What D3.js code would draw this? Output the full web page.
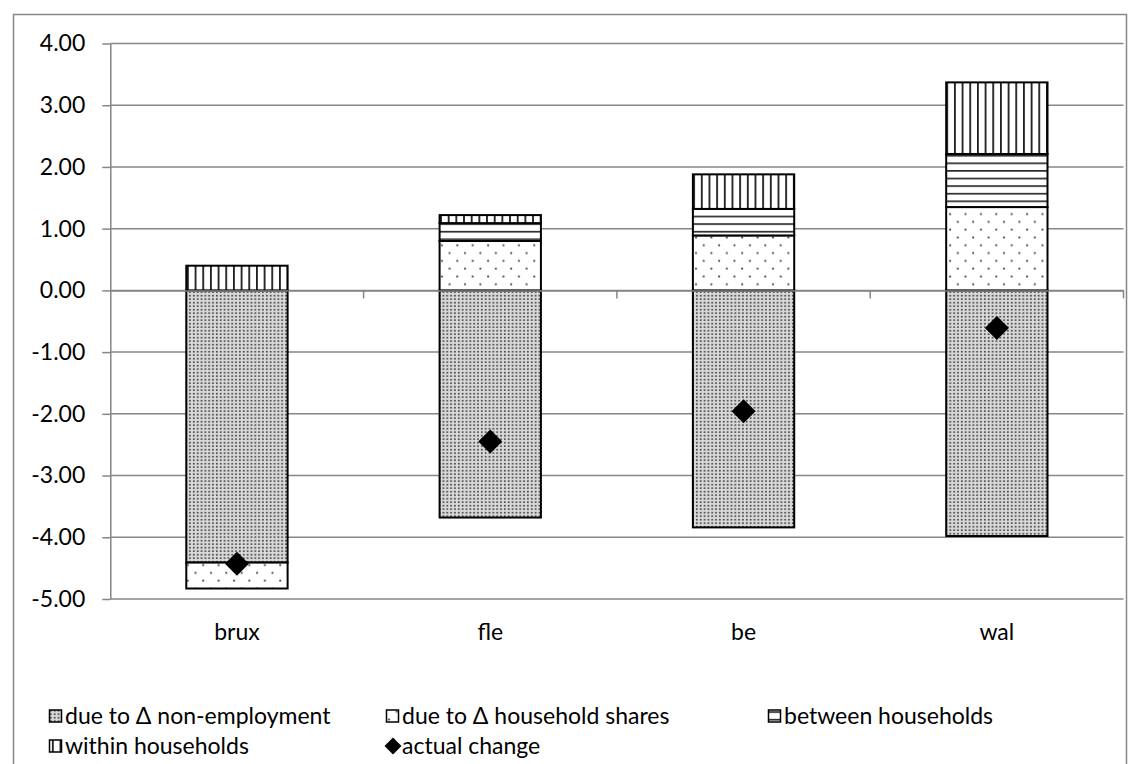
<!DOCTYPE html>
<html>
<head>
<meta charset="utf-8">
<script src="https://cdn.jsdelivr.net/npm/d3@7"></script>
<style>
  html, body { margin: 0; padding: 0; background: #fff; }
  svg { display: block; font-family: Lato, "Noto Sans", sans-serif; }
</style>
</head>
<body>
<svg id="chart" width="1140" height="764"></svg>
<script>
// Regions on the category axis
const categories = ["brux", "fle", "be", "wal"];

// Decomposition components (stacked)
const nonEmployment     = [-4.41, -3.68, -3.84, -3.98];
const householdShares   = [-0.42,  0.80,  0.89,  1.35];
const betweenHouseholds = [ 0.00,  0.29,  0.43,  0.86];
const withinHouseholds  = [ 0.40,  0.13,  0.56,  1.16];

// Overall change (diamond markers)
const actualChange = [-4.43, -2.45, -1.96, -0.61];

// Value axis ticks and their labels
const yTickValues = [4, 3, 2, 1, 0, -1, -2, -3, -4, -5];
const yTickLabels = ["4.00", "3.00", "2.00", "1.00", "0.00", "-1.00", "-2.00", "-3.00", "-4.00", "-5.00"];

const seriesKeys = ["nonEmployment", "householdShares", "betweenHouseholds", "withinHouseholds"];
const seriesNames = {
  nonEmployment: "due to \u0394 non-employment",
  householdShares: "due to \u0394 household shares",
  betweenHouseholds: "between households",
  withinHouseholds: "within households"
};
const seriesValues = { nonEmployment, householdShares, betweenHouseholds, withinHouseholds };

const rows = categories.map((c, i) => {
  const r = { category: c };
  seriesKeys.forEach(k => { r[k] = seriesValues[k][i]; });
  return r;
});

const svg = d3.select("#chart");
const gridColor = "#868686";
const fontSize = "23px";

// ---- fill patterns ----
const defs = svg.append("defs");

// fine dense dots on grey
const pNon = defs.append("pattern").attr("id", "pat-nonEmployment")
  .attr("patternUnits", "userSpaceOnUse").attr("width", 3.84).attr("height", 3.5);
pNon.append("rect").attr("width", 3.84).attr("height", 3.5).attr("fill", "#dadada");
pNon.append("rect").attr("x", 0.9).attr("y", 0.8).attr("width", 1.8).attr("height", 1.7).attr("fill", "#4a4a4a");

// sparse staggered dots on white
const pHh = defs.append("pattern").attr("id", "pat-householdShares")
  .attr("patternUnits", "userSpaceOnUse").attr("width", 15.4).attr("height", 15.6);
pHh.append("rect").attr("width", 15.4).attr("height", 15.6).attr("fill", "#fff");
pHh.append("circle").attr("cx", 3).attr("cy", 3.5).attr("r", 1.1).attr("fill", "#444");
pHh.append("circle").attr("cx", 10.7).attr("cy", 11.3).attr("r", 1.1).attr("fill", "#444");

// horizontal lines
const pBw = defs.append("pattern").attr("id", "pat-betweenHouseholds")
  .attr("patternUnits", "userSpaceOnUse").attr("width", 8).attr("height", 7.6);
pBw.append("rect").attr("width", 8).attr("height", 7.6).attr("fill", "#fff");
pBw.append("rect").attr("x", 0).attr("y", 3).attr("width", 8).attr("height", 1.4).attr("fill", "#000");

// vertical lines
const pWi = defs.append("pattern").attr("id", "pat-withinHouseholds")
  .attr("patternUnits", "userSpaceOnUse").attr("width", 7.67).attr("height", 8);
pWi.append("rect").attr("width", 7.67).attr("height", 8).attr("fill", "#fff");
pWi.append("rect").attr("x", 3).attr("y", 0).attr("width", 1.6).attr("height", 8).attr("fill", "#000");

// ---- outer frame ----
svg.append("rect")
  .attr("x", 13.5).attr("y", 14.5)
  .attr("width", 1113).attr("height", 800)
  .attr("fill", "none").attr("stroke", gridColor).attr("stroke-width", 1.5);

// ---- scales ----
const plot = { left: 110.3, right: 1123.5, top: 43.5, bottom: 599 };

const x = d3.scaleBand()
  .domain(categories)
  .range([plot.left, plot.right])
  .paddingInner(0.6)
  .paddingOuter(0.3);

const y = d3.scaleLinear()
  .domain([-5, 4])
  .range([plot.bottom, plot.top]);

// ---- gridlines ----
svg.append("g")
  .selectAll("line")
  .data(yTickValues)
  .join("line")
  .attr("x1", plot.left).attr("x2", plot.right)
  .attr("y1", d => y(d)).attr("y2", d => y(d))
  .attr("stroke", gridColor).attr("stroke-width", 1.5);

// ---- value axis ----
const yAxis = d3.axisLeft(y)
  .tickValues(yTickValues)
  .tickFormat((d, i) => yTickLabels[i])
  .tickSizeInner(8).tickSizeOuter(0).tickPadding(17);

const gy = svg.append("g")
  .attr("transform", `translate(${plot.left},0)`)
  .call(yAxis);
gy.select(".domain").attr("stroke", gridColor).attr("stroke-width", 1.5);
gy.selectAll(".tick line").attr("stroke", gridColor).attr("stroke-width", 1.5);
gy.selectAll(".tick text")
  .attr("fill", "#000")
  .style("font-size", fontSize)
  .style("font-family", "Lato, 'Noto Sans', sans-serif");

// ---- stacked bars ----
const stack = d3.stack()
  .keys(seriesKeys)
  .offset(d3.stackOffsetDiverging);
const stacked = stack(rows);

const barGroups = svg.append("g")
  .selectAll("g")
  .data(stacked)
  .join("g")
  .attr("fill", d => `url(#pat-${d.key})`);

barGroups.selectAll("rect")
  .data(d => d.filter(s => Math.abs(s[1] - s[0]) > 1e-9))
  .join("rect")
  .attr("x", s => x(s.data.category))
  .attr("width", x.bandwidth())
  .attr("y", s => y(Math.max(s[0], s[1])))
  .attr("height", s => Math.abs(y(s[0]) - y(s[1])))
  .attr("stroke", "#000")
  .attr("stroke-width", 2);

// ---- category axis at zero ----
const xAxis = d3.axisBottom(x).tickSize(0).tickPadding(0).tickFormat(() => "");
const gx = svg.append("g")
  .attr("transform", `translate(0,${y(0)})`)
  .call(xAxis);
gx.select(".domain").attr("stroke", gridColor).attr("stroke-width", 1.5);

// tick marks between categories
const boundaries = categories.map((c, i) => plot.left + (i + 1) * (plot.right - plot.left) / categories.length);
gx.selectAll(".boundary")
  .data(boundaries)
  .join("line")
  .attr("class", "boundary")
  .attr("x1", d => d).attr("x2", d => d)
  .attr("y1", 0).attr("y2", 8)
  .attr("stroke", gridColor).attr("stroke-width", 1.5);

// category labels below the plot area
svg.append("g")
  .selectAll("text")
  .data(categories)
  .join("text")
  .attr("x", d => x(d) + x.bandwidth() / 2)
  .attr("y", 640)
  .attr("text-anchor", "middle")
  .style("font-size", fontSize)
  .text(d => d);

// ---- actual change markers ----
const diamond = r => `M0,${-r}L${r},0L0,${r}L${-r},0Z`;
svg.append("g")
  .selectAll("path")
  .data(actualChange)
  .join("path")
  .attr("transform", (d, i) => `translate(${x(categories[i]) + x.bandwidth() / 2},${y(d)})`)
  .attr("d", diamond(12))
  .attr("fill", "#000");

// ---- legend ----
const legendItems = [
  { key: "nonEmployment", col: 0, row: 0 },
  { key: "householdShares", col: 1, row: 0 },
  { key: "betweenHouseholds", col: 2, row: 0 },
  { key: "withinHouseholds", col: 0, row: 1 },
  { key: "actualChange", col: 1, row: 1 }
];
const legendCols = [49, 386, 768];
const legendRows = [716, 746];

const legend = svg.append("g")
  .selectAll("g")
  .data(legendItems)
  .join("g")
  .attr("transform", d => `translate(${legendCols[d.col]},${legendRows[d.row]})`);

legend.filter(d => d.key !== "actualChange")
  .append("rect")
  .attr("x", 0.5).attr("y", -6)
  .attr("width", 12).attr("height", 12)
  .attr("fill", d => `url(#pat-${d.key})`)
  .attr("stroke", "#000").attr("stroke-width", 1.5);

legend.filter(d => d.key === "actualChange")
  .append("path")
  .attr("transform", "translate(7,0)")
  .attr("d", diamond(8.5))
  .attr("fill", "#000");

legend.append("text")
  .attr("x", 16)
  .attr("y", 0)
  .attr("dy", "0.35em")
  .style("font-size", fontSize)
  .text(d => d.key === "actualChange" ? "actual change" : seriesNames[d.key]);
</script>
</body>
</html>
